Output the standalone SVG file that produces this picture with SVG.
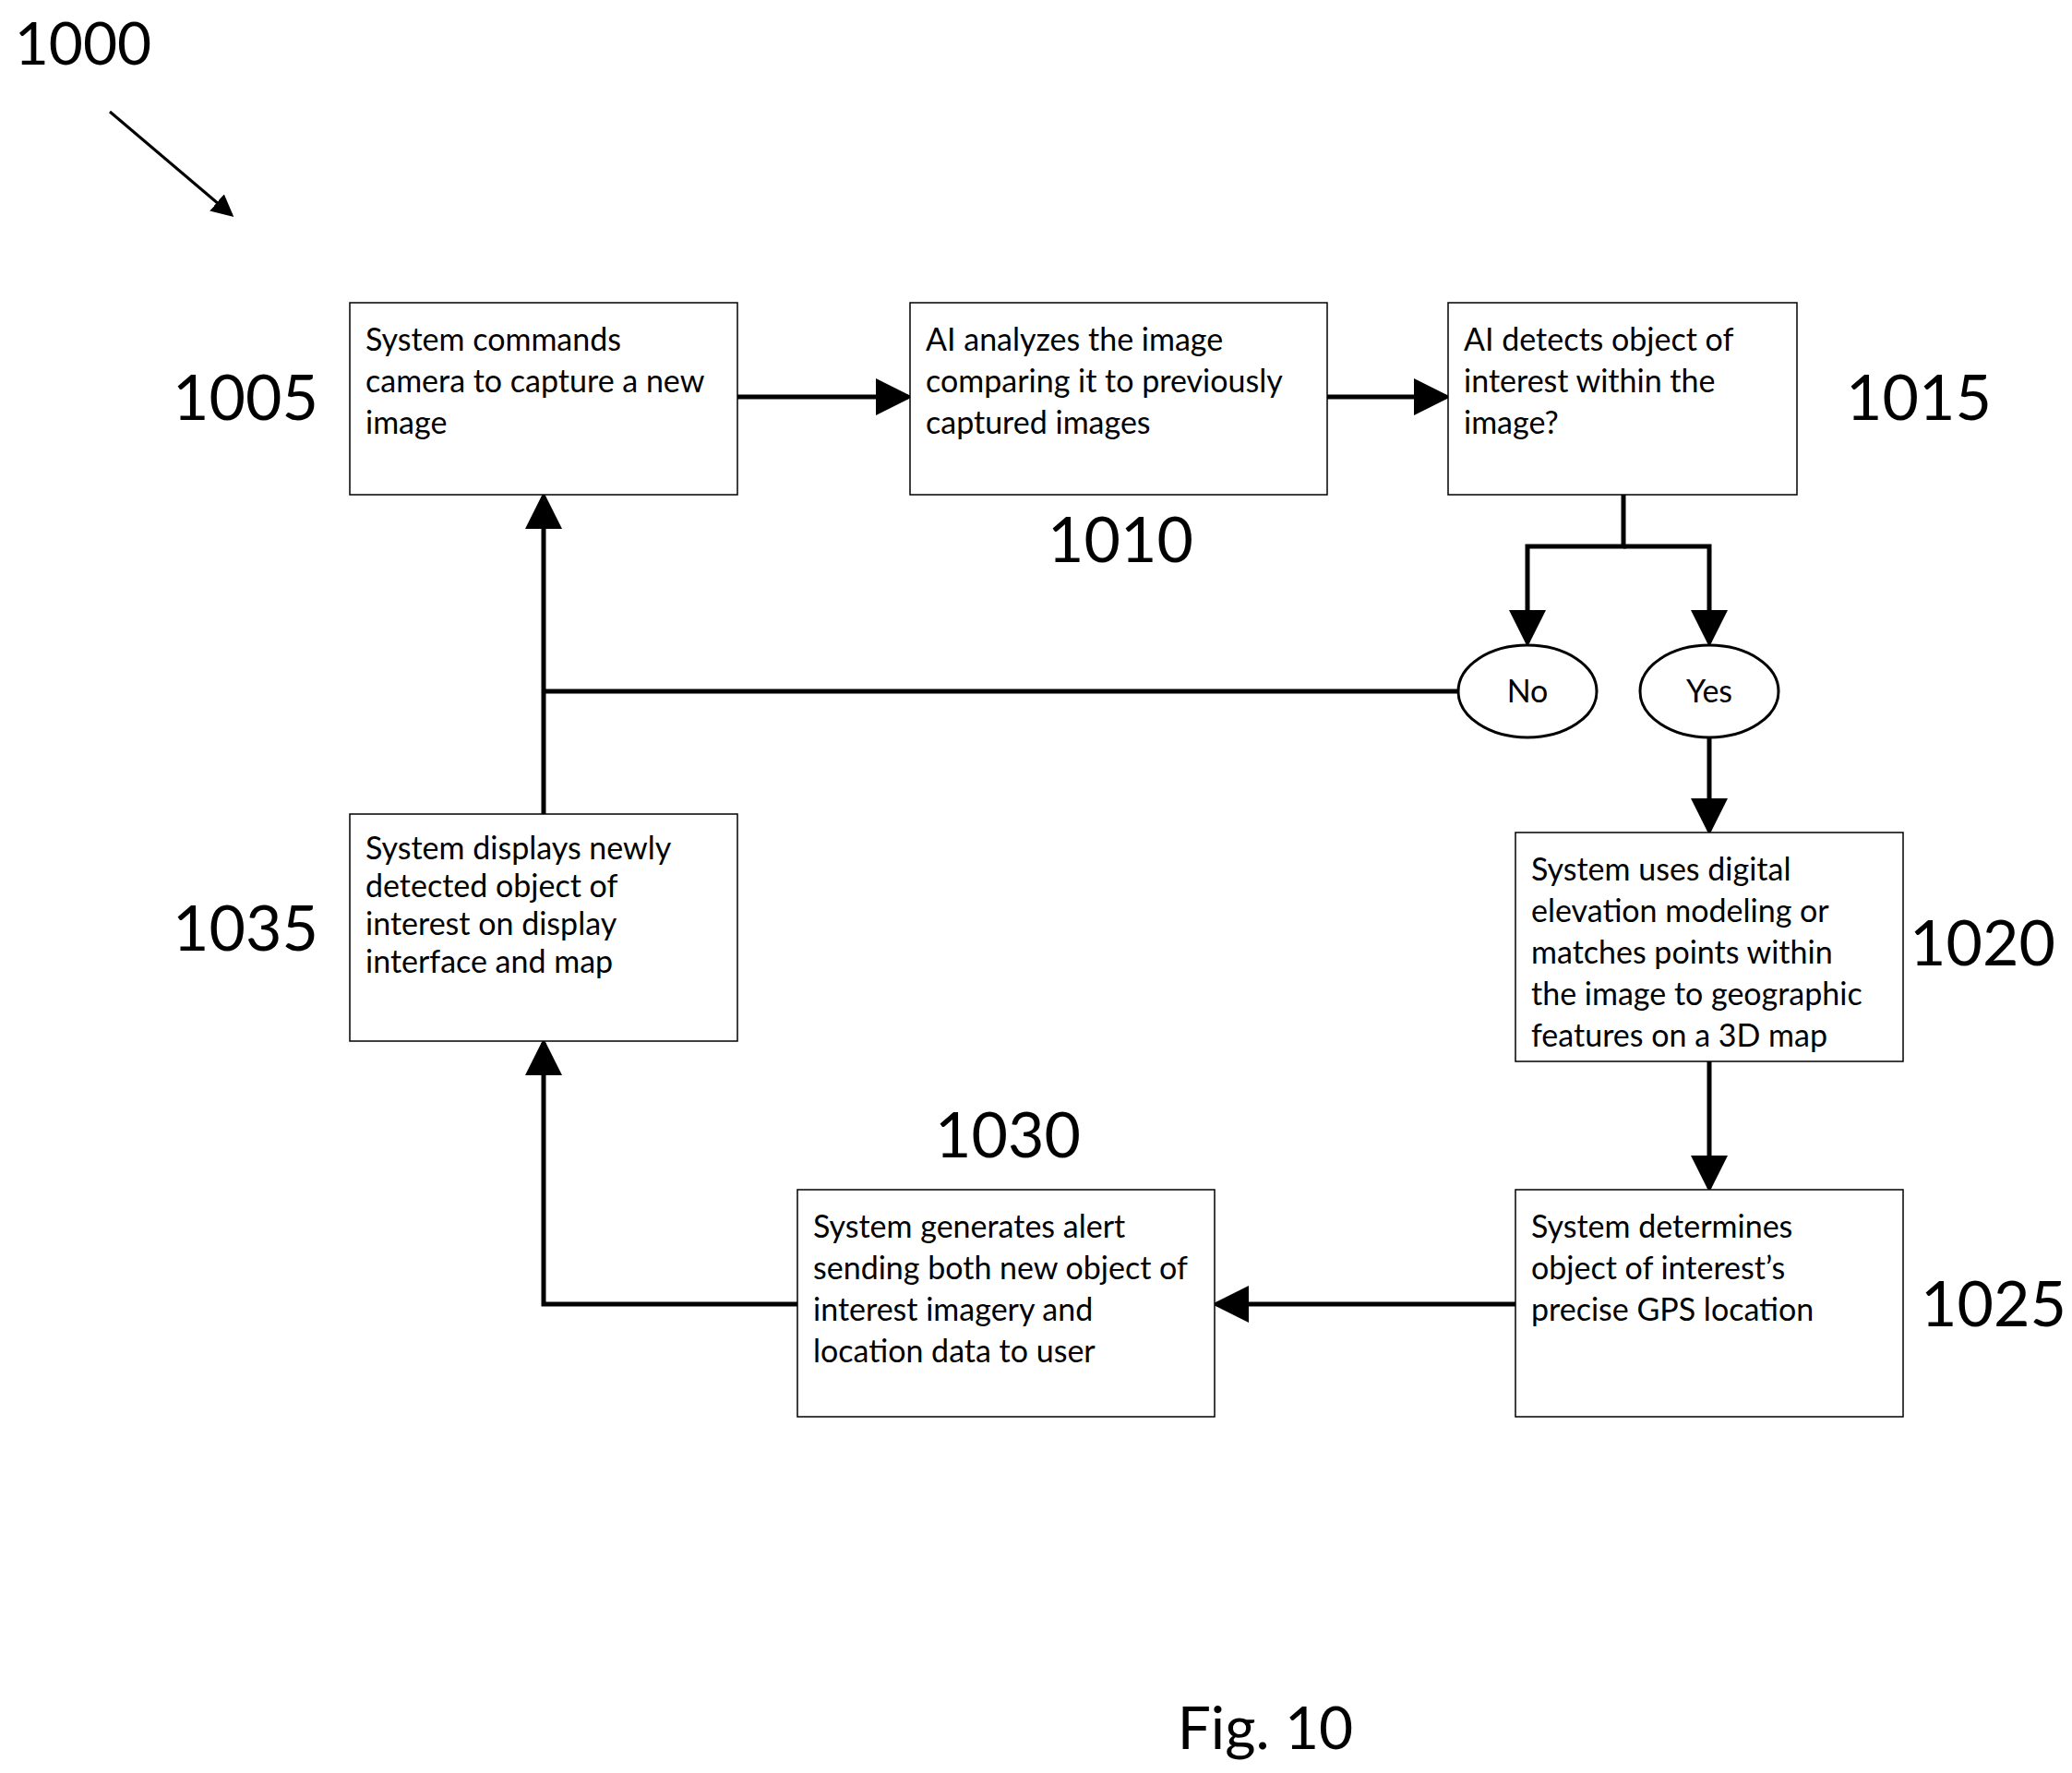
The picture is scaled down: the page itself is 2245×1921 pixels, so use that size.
<svg xmlns="http://www.w3.org/2000/svg" width="2245" height="1921" viewBox="0 0 2245 1921">
<style>
.b{fill:#fff;stroke:#000;stroke-width:1.5}
.t{font-family:Lato,"Open Sans",sans-serif;font-size:34px;fill:#000}
.n{font-family:Lato,"Open Sans",sans-serif;font-size:68px;fill:#000;text-anchor:middle}
.c{fill:none;stroke:#000;stroke-width:5}
</style>
<defs><marker id="a" markerWidth="8" markerHeight="8" refX="7" refY="4" orient="auto" markerUnits="strokeWidth"><path d="M0,0 L8,4 L0,8 Z" fill="#000"/></marker></defs>
<rect width="2245" height="1921" fill="#fff"/>
<g id="connectors">
<line class="c" x1="119" y1="121" x2="251" y2="233" style="stroke-width:3" marker-end="url(#a)"/>
<line class="c" x1="799" y1="430" x2="984" y2="430" marker-end="url(#a)"/>
<line class="c" x1="1438" y1="430" x2="1567" y2="430" marker-end="url(#a)"/>
<polyline class="c" points="1759,536 1759,592 1655,592 1655,696" marker-end="url(#a)"/>
<polyline class="c" points="1759,592 1852,592 1852,696" marker-end="url(#a)"/>
<line class="c" x1="1580" y1="749" x2="589" y2="749"/>
<line class="c" x1="589" y1="882" x2="589" y2="538" marker-end="url(#a)"/>
<line class="c" x1="1852" y1="799" x2="1852" y2="900" marker-end="url(#a)"/>
<line class="c" x1="1852" y1="1150" x2="1852" y2="1287" marker-end="url(#a)"/>
<line class="c" x1="1642" y1="1413" x2="1318" y2="1413" marker-end="url(#a)"/>
<polyline class="c" points="864,1413 589,1413 589,1130" marker-end="url(#a)"/>
</g>
<text class="n" x="90" y="70" style="font-size:64px">1000</text>
<g id="n1005"><rect class="b" x="379" y="328" width="420" height="208"/>
<text class="t" x="396" y="380">System commands</text><text class="t" x="396" y="425">camera to capture a new</text><text class="t" x="396" y="470">image</text>
<text class="n" x="266" y="455">1005</text></g>
<g id="n1010"><rect class="b" x="986" y="328" width="452" height="208"/>
<text class="t" x="1003" y="380">AI analyzes the image</text><text class="t" x="1003" y="425">comparing it to previously</text><text class="t" x="1003" y="470">captured images</text>
<text class="n" x="1214" y="609">1010</text></g>
<g id="n1015"><rect class="b" x="1569" y="328" width="378" height="208"/>
<text class="t" x="1586" y="380">AI detects object of</text><text class="t" x="1586" y="425">interest within the</text><text class="t" x="1586" y="470">image?</text>
<text class="n" x="2079" y="455">1015</text></g>
<g id="no"><ellipse class="b" cx="1655" cy="749" rx="75" ry="50" style="stroke-width:3"/><text class="t" x="1655" y="761" text-anchor="middle">No</text></g>
<g id="yes"><ellipse class="b" cx="1852" cy="749" rx="75" ry="50" style="stroke-width:3"/><text class="t" x="1852" y="761" text-anchor="middle">Yes</text></g>
<g id="n1020"><rect class="b" x="1642" y="902" width="420" height="248"/>
<text class="t" x="1659" y="954">System uses digital</text><text class="t" x="1659" y="999">elevation modeling or</text><text class="t" x="1659" y="1044">matches points within</text><text class="t" x="1659" y="1089">the image to geographic</text><text class="t" x="1659" y="1134">features on a 3D map</text>
<text class="n" x="2148" y="1046">1020</text></g>
<g id="n1025"><rect class="b" x="1642" y="1289" width="420" height="246"/>
<text class="t" x="1659" y="1341">System determines</text><text class="t" x="1659" y="1386">object of interest’s</text><text class="t" x="1659" y="1431">precise GPS location</text>
<text class="n" x="2160" y="1437">1025</text></g>
<g id="n1030"><rect class="b" x="864" y="1289" width="452" height="246"/>
<text class="t" x="881" y="1341">System generates alert</text><text class="t" x="881" y="1386">sending both new object of</text><text class="t" x="881" y="1431">interest imagery and</text><text class="t" x="881" y="1476">location data to user</text>
<text class="n" x="1092" y="1254">1030</text></g>
<g id="n1035"><rect class="b" x="379" y="882" width="420" height="246"/>
<text class="t" x="396" y="931">System displays newly</text><text class="t" x="396" y="972">detected object of</text><text class="t" x="396" y="1013">interest on display</text><text class="t" x="396" y="1054">interface and map</text>
<text class="n" x="266" y="1030">1035</text></g>
<text class="n" x="1371" y="1895" style="font-size:64px">Fig. 10</text>
</svg>
